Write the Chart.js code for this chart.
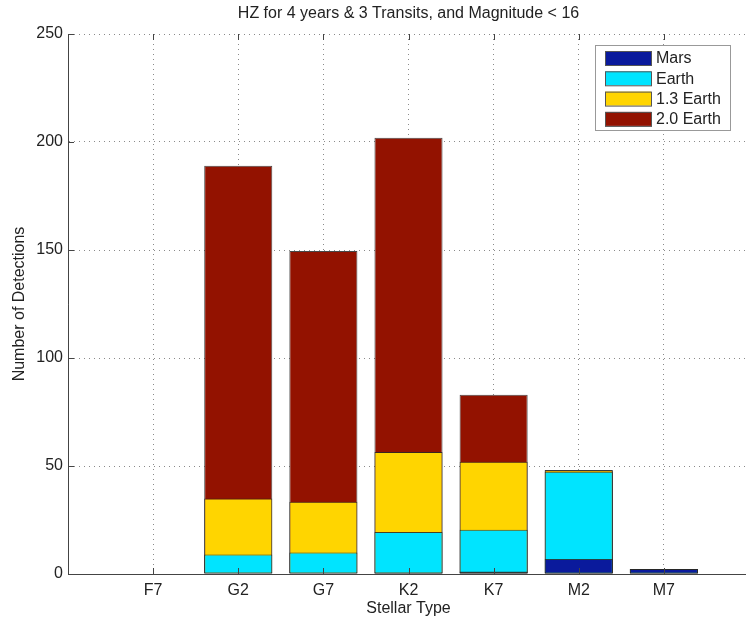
<!DOCTYPE html>
<html>
<head>
<meta charset="utf-8">
<script src="https://cdn.jsdelivr.net/npm/chart.js@4.4.1/dist/chart.umd.min.js"></script>
<style>
  html, body { margin: 0; padding: 0; background: #fff; overflow: hidden; }
  #wrap { width: 756px; height: 618px; }
</style>
</head>
<body>
<div id="wrap"><canvas id="chart"></canvas></div>
<script>
const categories = ['F7', 'G2', 'G7', 'K2', 'K7', 'M2', 'M7'];
const mars    = [0, 0, 0, 0.6, 1.2, 7, 2.3];
const earth   = [0, 9, 10, 19.5, 20.5, 47.3, 2.3];
const earth13 = [0, 35, 33.5, 56.5, 52, 48, 2.3];
const earth20 = [0, 189, 149.5, 202, 83, 48.2, 2.3];
const yTicks  = [0, 50, 100, 150, 200, 250];

const FONT = '"Liberation Sans", Arial, Helvetica, sans-serif';

function points(values) {
  return values.map((v, i) => ({ x: i + 1, y: v }));
}

// legend box drawn inside the plot, MATLAB style
const legendBox = {
  id: 'legendBox',
  afterDraw(chart) {
    const { ctx, chartArea } = chart;
    const sets = chart.data.datasets;
    const w = 135, h = 85, rowH = 20.3;
    const x0 = chartArea.right - 19 - w;
    const y0 = chartArea.top + 11;
    ctx.save();
    ctx.fillStyle = '#fff';
    ctx.fillRect(x0, y0, w, h);
    ctx.strokeStyle = '#999';
    ctx.lineWidth = 1;
    ctx.strokeRect(x0 + 0.5, y0 + 0.5, w, h);
    ctx.font = '16px ' + FONT;
    ctx.textBaseline = 'middle';
    sets.forEach((ds, i) => {
      const y = y0 + 6 + i * rowH;
      ctx.fillStyle = ds.backgroundColor;
      ctx.fillRect(x0 + 10, y, 46, 14);
      ctx.strokeStyle = '#555';
      ctx.strokeRect(x0 + 10.5, y + 0.5, 46, 14);
      ctx.fillStyle = '#222';
      ctx.fillText(ds.label, x0 + 61, y + 8);
    });
    ctx.restore();
  }
};

// inward tick marks
const innerTicks = {
  id: 'innerTicks',
  afterDatasetsDraw(chart) {
    const { ctx, chartArea, scales } = chart;
    ctx.save();
    ctx.strokeStyle = '#444';
    ctx.lineWidth = 1;
    ctx.beginPath();
    categories.forEach((c, i) => {
      const px = Math.round(scales.x.getPixelForValue(i + 1)) + 0.5;
      ctx.moveTo(px, chartArea.bottom); ctx.lineTo(px, chartArea.bottom - 6);
      ctx.moveTo(px, chartArea.top); ctx.lineTo(px, chartArea.top + 6);
    });
    yTicks.forEach(v => {
      const py = Math.round(scales.y.getPixelForValue(v)) + 0.5;
      ctx.moveTo(chartArea.left, py); ctx.lineTo(chartArea.left + 6, py);
    });
    ctx.stroke();
    ctx.restore();
  }
};

const barStyle = {
  borderColor: 'rgba(40,40,40,0.85)',
  borderWidth: c => (c.raw && c.raw.y > 0 ? 1 : 0),
  borderSkipped: false,
  barPercentage: 0.8,
  categoryPercentage: 1
};

const ctx = document.getElementById('chart').getContext('2d');
const chart = new Chart(ctx, {
  type: 'bar',
  data: {
    datasets: [
      { label: 'Mars', data: points(mars), backgroundColor: '#0a1a9c', ...barStyle },
      { label: 'Earth', data: points(earth), backgroundColor: '#00e4ff', ...barStyle },
      { label: '1.3 Earth', data: points(earth13), backgroundColor: '#ffd500', ...barStyle },
      { label: '2.0 Earth', data: points(earth20), backgroundColor: '#931200', ...barStyle }
    ]
  },
  options: {
    responsive: true,
    maintainAspectRatio: false,
    animation: false,
    layout: { padding: 0 },
    plugins: {
      legend: { display: false },
      tooltip: { enabled: false },
      title: {
        display: true,
        fullSize: false,
        text: 'HZ for 4 years & 3 Transits, and Magnitude < 16',
        color: '#222',
        font: { family: FONT, size: 16, weight: 'normal' },
        padding: { top: 4, bottom: 10.8 }
      }
    },
    scales: {
      x: {
        type: 'linear',
        stacked: true,
        offset: false,
        min: 0,
        max: 8,
        afterFit(scale) { scale.height = 44; },
        afterBuildTicks(scale) {
          scale.ticks = [0, 1, 2, 3, 4, 5, 6, 7, 8].map(v => ({ value: v }));
        },
        ticks: {
          padding: 7,
          color: '#222',
          font: { family: FONT, size: 16 },
          maxRotation: 0,
          autoSkip: false,
          callback: v => categories[v - 1] || ''
        },
        grid: { offset: false, drawTicks: false, color: '#8a8a8a', lineWidth: 1 },
        border: { color: '#444', width: 1, dash: [1, 4] },
        title: {
          display: true,
          text: 'Stellar Type',
          color: '#222',
          font: { family: FONT, size: 16 },
          padding: { top: 2, bottom: 0 }
        }
      },
      y: {
        stacked: false,
        min: 0,
        max: 250,
        afterFit(scale) { scale.width = 68; },
        afterBuildTicks(scale) {
          scale.ticks = yTicks.map(v => ({ value: v }));
        },
        ticks: {
          padding: 5,
          color: '#222',
          font: { family: FONT, size: 16 }
        },
        grid: { drawTicks: false, color: '#8a8a8a', lineWidth: 1 },
        border: { color: '#444', width: 1, dash: [1, 4] },
        title: {
          display: true,
          text: 'Number of Detections',
          color: '#222',
          font: { family: FONT, size: 16 },
          padding: { top: 9.5, bottom: 0 }
        }
      }
    }
  },
  plugins: [innerTicks, legendBox]
});
</script>
</body>
</html>
